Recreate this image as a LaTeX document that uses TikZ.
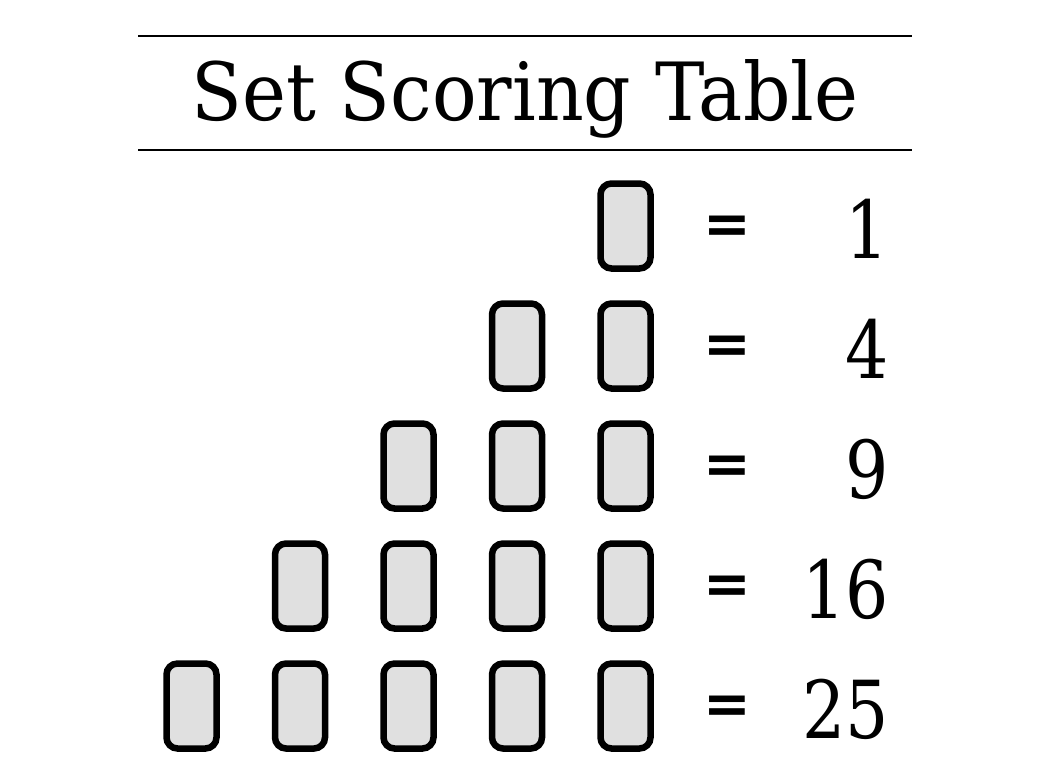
\documentclass[tikz,border=0pt]{standalone}
\usepackage{fontspec}
\setmainfont{DejaVu Serif}
\newfontfamily\eqfont{DejaVu Sans}
\usepackage{graphicx}
\begin{document}
\begin{tikzpicture}[x=1pt,y=-1pt,
  card/.style={draw=black,line width=6.5pt,fill=cardgray,rounded corners=11pt,
    minimum width=50pt,minimum height=85pt,inner sep=0pt},
  numtxt/.style={inner sep=0pt,anchor=base east,font=\fontsize{80pt}{82pt}\selectfont},
  eqtxt/.style={inner sep=0pt,anchor=base,font=\eqfont\bfseries\fontsize{57pt}{59pt}\selectfont},
  rule/.style={line width=2pt}]
\definecolor{cardgray}{HTML}{E0E0E0}
\useasboundingbox (0,0) rectangle (1051,782);
\fill[white] (0,0) rectangle (1051,782);
\coordinate (l1a) at (138,36); \coordinate (l1b) at (912,36);
\coordinate (l2a) at (138,150); \coordinate (l2b) at (912,150);
\draw[rule] (l1a) -- (l1b);
\draw[rule] (l2a) -- (l2b);
\node[inner sep=0pt,anchor=base] (title) at (525,120) {\resizebox{666pt}{61pt}{Set Scoring Table}};
\foreach \r/\v in {1/1,2/4,3/9,4/16,5/25}{
  \pgfmathsetmacro{\yc}{226+120*(\r-1)}
  \foreach \c in {1,...,\r}{
    \pgfmathsetmacro{\xc}{625.5-108.5*(\c-1)}
    \node[card] (c\r-\c) at (\xc,\yc) {};
  }
  \node[eqtxt] (eq\r) at (727.5,\yc+17) {=};
  \node[numtxt] (n\r) at (889,\yc+32) {\scalebox{0.85}[1]{\v}};
}
\end{tikzpicture}
\end{document}
